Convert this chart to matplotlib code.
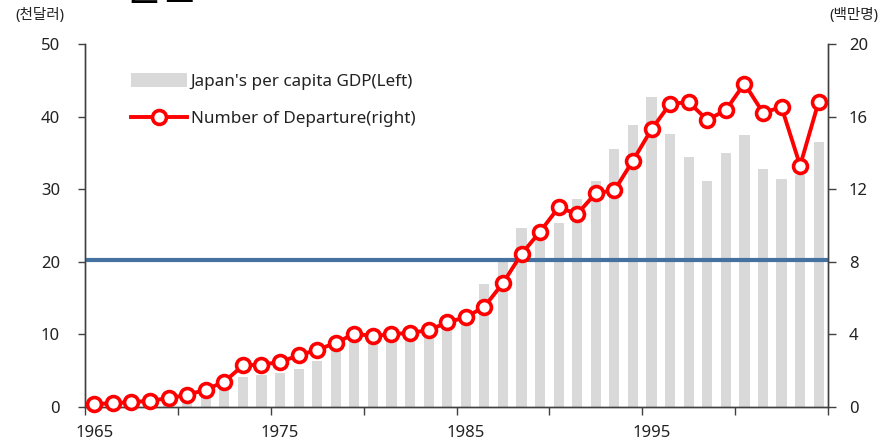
"""
Japan's per capita GDP vs number of departures, 1965-2004
"""
import matplotlib
matplotlib.use('Agg')
import matplotlib.pyplot as plt
from matplotlib.ticker import FixedLocator, NullFormatter

plt.rcParams['font.family'] = ['Noto Sans', 'Noto Sans CJK KR', 'DejaVu Sans']

# data
years = list(range(1965, 2005))
gdp = [0.9, 1.05, 1.2, 1.45, 1.65, 2.0, 2.3, 2.9, 4.1, 4.4,
       4.7, 5.2, 6.3, 7.9, 9.0, 9.2, 9.7, 9.3, 10.0, 10.8,
       11.6, 17.0, 20.0, 24.7, 24.5, 25.3, 28.6, 31.1, 35.5, 38.9,
       42.7, 37.6, 34.4, 31.1, 35.0, 37.4, 32.8, 31.4, 32.0, 36.5]
departures = [0.16, 0.21, 0.27, 0.34, 0.49, 0.66, 0.96, 1.39, 2.29, 2.34,
              2.47, 2.85, 3.15, 3.53, 4.04, 3.91, 4.01, 4.09, 4.23, 4.66,
              4.95, 5.52, 6.83, 8.43, 9.66, 11.0, 10.63, 11.79, 11.93, 13.58,
              15.3, 16.7, 16.8, 15.81, 16.36, 17.82, 16.22, 16.52, 13.3, 16.83]
threshold = 20.2
label_years = [1965, 1975, 1985, 1995]

x = list(range(len(years)))

fig = plt.figure(figsize=(8.96, 4.46), dpi=100)
ax = fig.add_axes([85/896, 1-407/446, 743/896, 363/446])
ax2 = ax.twinx()

bars = ax.bar(x, gdp, width=0.55, color='#d9d9d9', zorder=2,
              label="Japan's per capita GDP(Left)")
ax.axhline(threshold, color='#4472a0', lw=3, zorder=3)

line, = ax2.plot(x, departures, color='#ff0000', lw=2.8, marker='o',
                 markersize=10, markerfacecolor='white', markeredgecolor='#ff0000',
                 markeredgewidth=2.6, zorder=5, clip_on=False,
                 label='Number of Departure(right)')

ax.set_xlim(-0.5, len(years) - 0.5)
ax.set_ylim(0, 50)
ax2.set_ylim(0, 20)
ax.set_yticks(range(0, 51, 10))
ax2.set_yticks(range(0, 21, 4))

# category labels on every 10th year, tick marks between categories every 5
ax.xaxis.set_major_locator(FixedLocator([years.index(y) for y in label_years]))
ax.set_xticklabels([str(y) for y in label_years])
ax.xaxis.set_minor_locator(FixedLocator([i - 0.5 for i in range(0, len(years) + 1, 5)]))
ax.xaxis.set_minor_formatter(NullFormatter())
ax.tick_params(axis='x', which='major', length=0, pad=13, labelsize=12, labelcolor='#222222')
ax.tick_params(axis='x', which='minor', length=6, width=1, color='#404040', direction='out')
ax.tick_params(axis='y', length=5, width=1, color='#404040', pad=13,
               labelsize=12, labelcolor='#222222', direction='out')
ax2.tick_params(axis='y', length=6, width=1, color='#404040', pad=9,
                labelsize=12, labelcolor='#222222', direction='out')

for a in (ax, ax2):
    a.spines['top'].set_visible(False)
    for s in ('left', 'right', 'bottom'):
        a.spines[s].set_color('#404040')
        a.spines[s].set_linewidth(1)

ax2.legend([bars, line], [bars.get_label(), line.get_label()],
           loc='upper left', bbox_to_anchor=(0.062, 0.92), frameon=False,
           fontsize=12.3, handlelength=3.3, handleheight=0.85, handletextpad=0.2,
           labelspacing=1.2, borderpad=0, borderaxespad=0, labelcolor='#222222')

fig.text(15/896, 1-15/446, '(천달러)', fontsize=10.5, color='#222222', va='center', ha='left')
fig.text(878/896, 1-15/446, '(백만명)', fontsize=10.5, color='#222222', va='center', ha='right')
# title, cut off by the top edge
fig.text(122/896, 1-10/446, '일본', fontsize=30, color='black', va='bottom', ha='left')

fig.savefig('out.png', dpi=100)
